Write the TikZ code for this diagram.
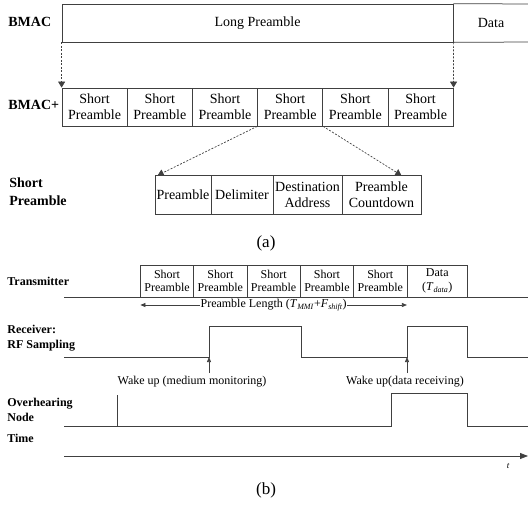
\documentclass[tikz,border=0pt]{standalone}
\usepackage{fontspec}
\setmainfont{Liberation Serif}
\usetikzlibrary{arrows.meta,calc}
\begin{document}
\begin{tikzpicture}[x=1pt,y=-1pt,
  line width=0.75pt,
  ln/.style={draw=black!75, line width=0.75pt},
  cellA/.style={draw=black!75, line width=0.75pt, minimum height=38pt, inner sep=0pt, align=center, font=\fontsize{14}{16}\selectfont},
  cellB/.style={draw=black!75, line width=0.75pt, minimum height=32pt, minimum width=53.3pt, inner sep=0pt, align=center, font=\fontsize{12}{13.5}\selectfont},
  lblA/.style={font=\bfseries\fontsize{14}{18}\selectfont, anchor=west, align=left, inner sep=0pt},
  lblB/.style={font=\bfseries\fontsize{12}{14.5}\selectfont, anchor=west, align=left, inner sep=0pt},
  txtB/.style={font=\fontsize{12}{14}\selectfont, inner sep=1pt},
  dasharrow/.style={draw=black!75, line width=0.7pt, dash pattern=on 2pt off 1.5pt, -{Triangle[width=7pt,length=6pt]}},
  uptip/.style={draw=black!75, line width=0.7pt, -{Triangle[width=4pt,length=5pt]}},
  dbltip/.style={draw=black!75, line width=0.7pt, {Triangle[width=4pt,length=5pt]}-{Triangle[width=4pt,length=5pt]}}
]
\useasboundingbox (0,0) rectangle (528,507);

% ---------- (a) ----------
\node[lblA] (bmac) at (8,22) {BMAC};
\node[cellA, minimum width=391pt] (lp) at (257.5,23) {Long Preamble};
\coordinate (dtr) at (528,4);
\coordinate (dbr) at (528,42);
\draw[ln] (lp.north east) -- (dtr);
\draw[ln] (lp.south east) -- (dbr);
\node[font=\fontsize{14}{16}\selectfont, inner sep=0pt] (data) at (491,23) {Data};

\node[lblA] (bmacp) at (8,105) {BMAC+};
\foreach \i in {1,...,6}{
  \node[cellA, minimum width=65.2pt] (s\i) at ({62+65.2*(\i-0.5)},107) {Short\\Preamble};
}

\draw[dasharrow] (lp.south west) -- (s1.north west);
\draw[dasharrow] (lp.south east) -- (s6.north east);

\node[lblA] (spl) at (9,192) {Short\\Preamble};
\node[cellA, minimum height=38.5pt, minimum width=56pt] (p1) at (183,195) {Preamble};
\node[cellA, minimum height=38.5pt, minimum width=62pt] (p2) at (242,195) {Delimiter};
\node[cellA, minimum height=38.5pt, minimum width=69pt] (p3) at (307.5,195) {Destination\\Address};
\node[cellA, minimum height=38.5pt, minimum width=79pt] (p4) at (381.5,195) {Preamble\\Countdown};

\draw[dasharrow] (s4.south west) -- ($(p1.north west)+(3,0)$);
\draw[dasharrow] (s4.south east) -- ($(p4.north west)!0.75!(p4.north east)$);

\node[font=\fontsize{17}{20}\selectfont, inner sep=0pt] (la) at (266,243) {(a)};

% ---------- (b) ----------
\node[lblB] (tx) at (7,281) {Transmitter};
\foreach \i in {1,...,5}{
  \node[cellB] (t\i) at ({140.4+53.3*(\i-0.5)},281) {Short\\Preamble};
}
\node[cellB, minimum width=60.7pt] (td) at (437.25,281) {Data\\(\textit{T}\textsubscript{\textit{data}})};
\coordinate (tb0) at (64,297);
\coordinate (tb1) at (528,297);
\draw[ln] (tb0) -- (tb1);

\coordinate (pl0) at (140.4,305);
\coordinate (pl1) at (406.9,305);
\draw[dbltip] (pl0) -- (pl1) node[midway, fill=white, txtB, inner sep=0.5pt] (pltxt) {Preamble Length (\textit{T}\textsubscript{\textit{MMI}}+\textit{F}\textsubscript{\textit{shift}})};

\node[lblB] (rx) at (7,338) {Receiver:\\RF Sampling};
\coordinate (w1) at (209,357);
\coordinate (w2) at (407,357);
\draw[ln] (64,357) -- (w1) -- (209,326) -- (301,326) -- (301,357) -- (w2) -- (407,326) -- (467.6,326) -- (467.6,357) -- (528,357);
\coordinate (a1) at (209,373);
\coordinate (a2) at (407,373);
\draw[uptip] (a1) -- (w1);
\draw[uptip] (a2) -- (w2);
\node[txtB] (wk1) at (192,382) {Wake up (medium monitoring)};
\node[txtB] (wk2) at (405,382) {Wake up(data receiving)};

\node[lblB, font=\bfseries\fontsize{12}{15}\selectfont] (ov) at (7,409.5) {Overhearing\\Node};
\draw[ln] (64,426) -- (391,426) -- (391,393) -- (467.6,393) -- (467.6,426) -- (528,426);
\draw[ln] (117,426) -- (117,395);

\node[lblB] (tm) at (7,438) {Time};
\coordinate (ax0) at (64,456);
\coordinate (ax1) at (528,456);
\draw[draw=black!75, line width=0.75pt, -{Triangle[width=6pt,length=8pt]}] (ax0) -- (ax1);
\node[font=\itshape\fontsize{9}{10}\selectfont, inner sep=0pt] (tt) at (508,466) {t};

\node[font=\fontsize{17}{20}\selectfont, inner sep=0pt] (lb) at (266,490) {(b)};
\end{tikzpicture}
\end{document}
